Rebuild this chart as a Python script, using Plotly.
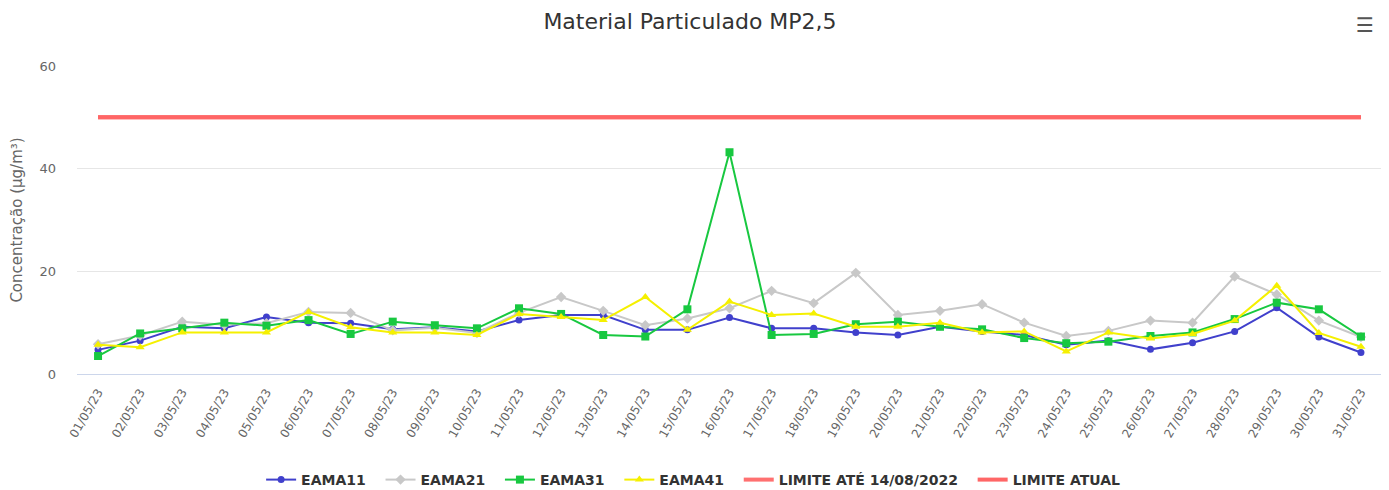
import plotly.graph_objects as go

dates = ["%02d/05/23" % d for d in range(1, 32)]

eama11 = [4.7, 6.5, 9.2, 8.9, 11.1, 10.0, 9.9, 8.7, 9.1, 8.3, 10.5, 11.5, 11.5, 8.6, 8.6, 11.0,
          8.9, 8.9, 8.1, 7.6, 9.2, 8.3, 7.6, 5.7, 6.5, 4.8, 6.1, 8.3, 12.9, 7.2, 4.2]
eama21 = [5.8, 7.5, 10.2, 9.6, 9.9, 12.1, 11.9, 8.5, 9.0, 8.0, 11.9, 15.0, 12.3, 9.5, 10.8, 12.8,
          16.2, 13.8, 19.7, 11.5, 12.3, 13.6, 10.0, 7.4, 8.4, 10.4, 10.0, 19.0, 15.5, 10.4, 7.2]
eama31 = [3.5, 7.9, 8.9, 10.0, 9.4, 10.5, 7.8, 10.2, 9.5, 8.9, 12.8, 11.7, 7.6, 7.3, 12.6, 43.2,
          7.6, 7.8, 9.7, 10.2, 9.2, 8.7, 7.0, 6.0, 6.3, 7.4, 8.1, 10.7, 13.9, 12.6, 7.3]
eama41 = [5.7, 5.2, 8.1, 8.1, 8.1, 12.1, 9.1, 8.1, 8.1, 7.6, 11.7, 11.1, 10.5, 15.0, 8.6, 14.1,
          11.5, 11.8, 9.2, 9.2, 10.0, 8.1, 8.3, 4.4, 8.1, 6.9, 7.8, 10.4, 17.2, 8.0, 5.3]
limite_antigo = [50] * 31
limite_atual = [50] * 31

y_ticks = [0, 20, 40, 60]

font = "DejaVu Sans, Verdana, sans-serif"
pad = "\u00a0\u00a0"

# page body has an 8px margin; the figure is sized so it fills the window
W, H = 1381, 482

fig = go.Figure()
series = [
    ("EAMA11", eama11, "#4040cc", "circle", 7),
    ("EAMA21", eama21, "#c8c8c8", "diamond", 8),
    ("EAMA31", eama31, "#18c840", "square", 8),
    ("EAMA41", eama41, "#f5f000", "triangle-up", 8),
]
for name, vals, color, sym, size in series:
    fig.add_trace(go.Scatter(
        x=dates, y=vals, name=name + pad, mode="lines+markers",
        line=dict(color=color, width=2),
        marker=dict(symbol=sym, size=size, color=color),
    ))
fig.add_trace(go.Scatter(x=dates, y=limite_antigo, name="LIMITE ATÉ 14/08/2022" + pad,
                         mode="lines", line=dict(color="#ff7070", width=4)))
fig.add_trace(go.Scatter(x=dates, y=limite_atual, name="LIMITE ATUAL",
                         mode="lines", line=dict(color="#ff6666", width=4)))

fig.update_layout(
    width=W, height=H,
    margin=dict(l=69, r=7, t=58, b=116),
    paper_bgcolor="white", plot_bgcolor="white",
    font=dict(family=font, color="#666666"),
    title=dict(text="Material Particulado MP2,5", x=(690 - 8) / W, xanchor="center",
               yref="container", y=1 - 13 / H, yanchor="middle",
               font=dict(size=22, color="#333333", family=font)),
    showlegend=True,
    legend=dict(orientation="h", x=(660 - 8) / W, xanchor="center",
                yref="container", y=10 / H, yanchor="middle",
                font=dict(size=14, color="#333333", family=font, weight="bold"),
                itemwidth=30, tracegroupgap=0),
    xaxis=dict(type="category", range=[-0.5, 30.5], tickangle=-60, automargin=False,
               ticklabelstandoff=8,
               tickfont=dict(size=12, color="#666666"), showgrid=False,
               showline=False, ticks="", zeroline=False),
    yaxis=dict(range=[0, 60], tickvals=y_ticks, showgrid=True, gridcolor="#e6e6e6",
               gridwidth=1, zeroline=True, zerolinecolor="#ccd6eb", zerolinewidth=1,
               automargin=False, ticklabelstandoff=20,
               tickfont=dict(size=13, color="#666666"), ticks="",
               title=dict(text="Concentração (µg/m³)", font=dict(size=15, color="#666666"),
                          standoff=34)),
)

fig.add_annotation(text="☰", xref="paper", yref="paper", x=1.0, y=(366 - 17) / 308,
                   xanchor="right", yanchor="middle", xshift=-6,
                   showarrow=False, font=dict(size=20, color="#555555"))

fig.write_html("out.html")
